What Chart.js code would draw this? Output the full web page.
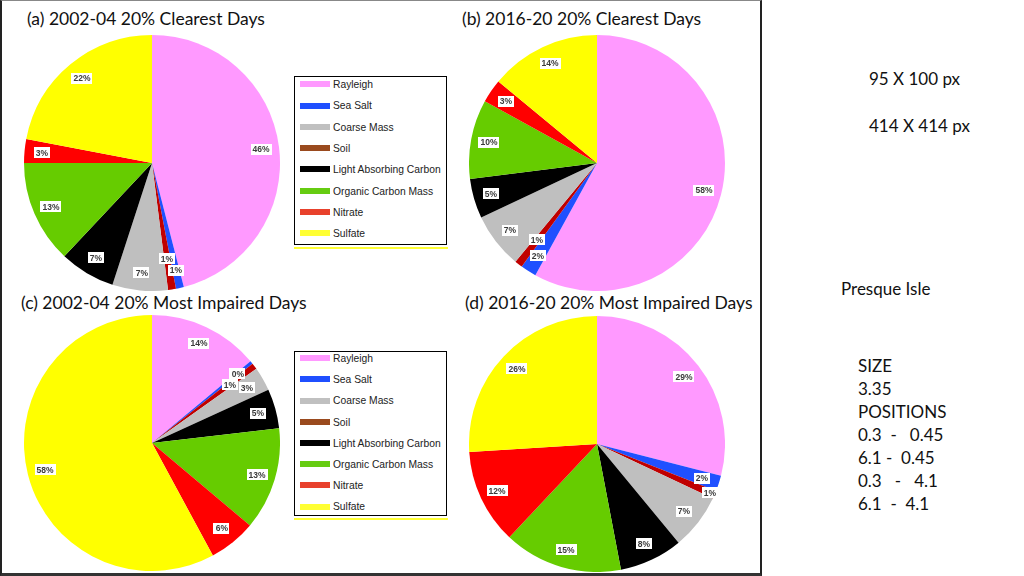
<!DOCTYPE html>
<html lang="en">
<head>
    <meta charset="UTF-8">
    <title>Presque Isle - Light Extinction Pies</title>
    <script src="https://cdn.jsdelivr.net/npm/chart.js"></script>
    <style>
        body {
            margin: 0;
            width: 1024px;
            height: 576px;
            background: #fff;
            position: relative;
            overflow: hidden;
            font-family: Lato, "Open Sans", sans-serif;
            color: #111;
        }
        .frame {
            position: absolute;
            left: 0; top: 0;
            width: 762px; height: 576px;
            box-sizing: border-box;
            border-left: 2px solid #222;
            border-right: 2px solid #222;
            border-top: 1px solid #888;
            border-bottom: 3px solid #333;
        }
        .pie {
            position: absolute;
            width: 256px;
            height: 256px;
        }
        .title {
            position: absolute;
            font-size: 17.5px;
            line-height: 20px;
            white-space: nowrap;
        }
        .legend {
            position: absolute;
            left: 294px;
            width: 153px;
            box-sizing: border-box;
            border: 1.5px solid #000;
            background: #fff;
            font-family: "Liberation Sans", Arial, sans-serif;
            font-size: 10.3px;
            color: #222;
        }
        .legend::after {
            content: "";
            position: absolute;
            left: -1.5px; right: -1.5px;
            bottom: -5px;
            height: 2px;
            background: #ffff33;
        }
        .legend .row {
            position: absolute;
            left: 5px;
            height: 12px;
            line-height: 12px;
            white-space: nowrap;
        }
        .legend .sw {
            display: inline-block;
            width: 30px;
            height: 6px;
            vertical-align: middle;
            margin-right: 3px;
            margin-top: -2px;
        }
        .side {
            position: absolute;
            font-size: 17px;
            line-height: 23px;
            white-space: pre;
        }
    </style>
</head>
<body>
    <div class="frame"></div>

    <div class="title" style="left:27px; top:9px;">(a) 2002-04 20% Clearest Days</div>
    <div class="title" style="left:462px; top:9px;">(b) 2016-20 20% Clearest Days</div>
    <div class="title" style="left:21px; top:293px;">(c) 2002-04 20% Most Impaired Days</div>
    <div class="title" style="left:465px; top:293px;">(d) 2016-20 20% Most Impaired Days</div>

    <canvas class="pie" id="pieA" width="256" height="256" style="left:24px; top:35px;"></canvas>
    <canvas class="pie" id="pieB" width="256" height="256" style="left:469px; top:35px;"></canvas>
    <canvas class="pie" id="pieC" width="256" height="256" style="left:24px; top:315px;"></canvas>
    <canvas class="pie" id="pieD" width="256" height="256" style="left:469px; top:316px;"></canvas>

    <div class="legend" id="legend1" style="top:76px; height:169px;"></div>
    <div class="legend" id="legend2" style="top:351px; height:165px;"></div>

    <div class="side" style="left:869px; top:67px;">95 X 100 px</div>
    <div class="side" style="left:869px; top:114px;">414 X 414 px</div>
    <div class="side" style="left:841px; top:277px;">Presque Isle</div>
    <div class="side" style="left:858px; top:354px;">SIZE
3.35
POSITIONS
0.3  -   0.45
6.1 -  0.45
0.3   -   4.1
6.1  -  4.1</div>

    <script>
    // legend order
    const species = ['Rayleigh', 'Sea Salt', 'Coarse Mass', 'Soil', 'Light Absorbing Carbon', 'Organic Carbon Mass', 'Nitrate', 'Sulfate'];
    const legendColors = ['#ff99ff', '#1f4fff', '#c0c0c0', '#9a4a1e', '#000000', '#66cc11', '#e8412c', '#ffff33'];

    // pie order (clockwise from 12 o'clock)
    const pieSpecies = ['Rayleigh', 'Sea Salt', 'Soil', 'Coarse Mass', 'Light Absorbing Carbon', 'Organic Carbon Mass', 'Nitrate', 'Sulfate'];
    const pieColors = ['#ff99ff', '#2050ff', '#c00000', '#bfbfbf', '#000000', '#66cc00', '#ff0000', '#ffff00'];

    // percent of light extinction
    const clear0204 = [46, 1, 1, 7, 7, 13, 3, 22];
    const clear1620 = [58, 2, 1, 7, 5, 10, 3, 14];
    const impaired0204 = [14, 0.4, 0.8, 3, 5, 13, 6, 58];
    const impaired1620 = [29, 2, 1, 7, 8, 15, 12, 26];

    // white boxed % labels, nudged in/out when they collide
    const pctLabels = {
        id: 'pctLabels',
        afterDatasetsDraw(chart) {
            const ctx = chart.ctx;
            const ds = chart.data.datasets[0];
            const total = ds.data.reduce((a, b) => a + b, 0);
            const placed = [];
            ctx.save();
            ctx.font = 'bold 8.5px "Liberation Sans", Arial, sans-serif';
            ctx.textAlign = 'center';
            ctx.textBaseline = 'middle';
            chart.getDatasetMeta(0).data.forEach((arc, i) => {
                const p = arc.getProps(['x', 'y', 'startAngle', 'endAngle', 'outerRadius'], true);
                const mid = (p.startAngle + p.endAngle) / 2;
                const txt = Math.round(ds.data[i] / total * 100) + '%';
                const w = ctx.measureText(txt).width + 4;
                const h = 11;
                const base = p.outerRadius * 0.86;
                const tries = [0, -13, 13, -26, 26];
                let bx, by;
                for (const d of tries) {
                    const r = base + d;
                    bx = p.x + r * Math.cos(mid);
                    by = p.y + r * Math.sin(mid);
                    const hit = placed.some(b => Math.abs(b.x - bx) < (b.w + w) / 2 && Math.abs(b.y - by) < h);
                    if (!hit) break;
                }
                placed.push({x: bx, y: by, w: w});
                ctx.fillStyle = '#ffffff';
                ctx.fillRect(Math.round(bx - w / 2), Math.round(by - h / 2), Math.round(w), h);
                ctx.fillStyle = '#3a3a3a';
                ctx.fillText(txt, Math.round(bx), Math.round(by) + 0.5);
            });
            ctx.restore();
        }
    };

    function makePie(id, values) {
        return new Chart(document.getElementById(id), {
            type: 'pie',
            data: {
                labels: pieSpecies,
                datasets: [{
                    data: values,
                    backgroundColor: pieColors,
                    borderWidth: 0
                }]
            },
            options: {
                responsive: false,
                animation: false,
                layout: { padding: 0 },
                plugins: {
                    legend: { display: false },
                    tooltip: { enabled: false }
                }
            },
            plugins: [pctLabels]
        });
    }

    makePie('pieA', clear0204);
    makePie('pieB', clear1620);
    makePie('pieC', impaired0204);
    makePie('pieD', impaired1620);

    function buildLegend(id, first, step) {
        const box = document.getElementById(id);
        species.forEach((name, i) => {
            const row = document.createElement('div');
            row.className = 'row';
            row.style.top = (first + i * step - 6) + 'px';
            row.innerHTML = '<span class="sw" style="background:' + legendColors[i] + '"></span>' + name;
            box.appendChild(row);
        });
    }
    buildLegend('legend1', 8, 21.3);
    buildLegend('legend2', 7, 21.2);
    </script>
</body>
</html>
